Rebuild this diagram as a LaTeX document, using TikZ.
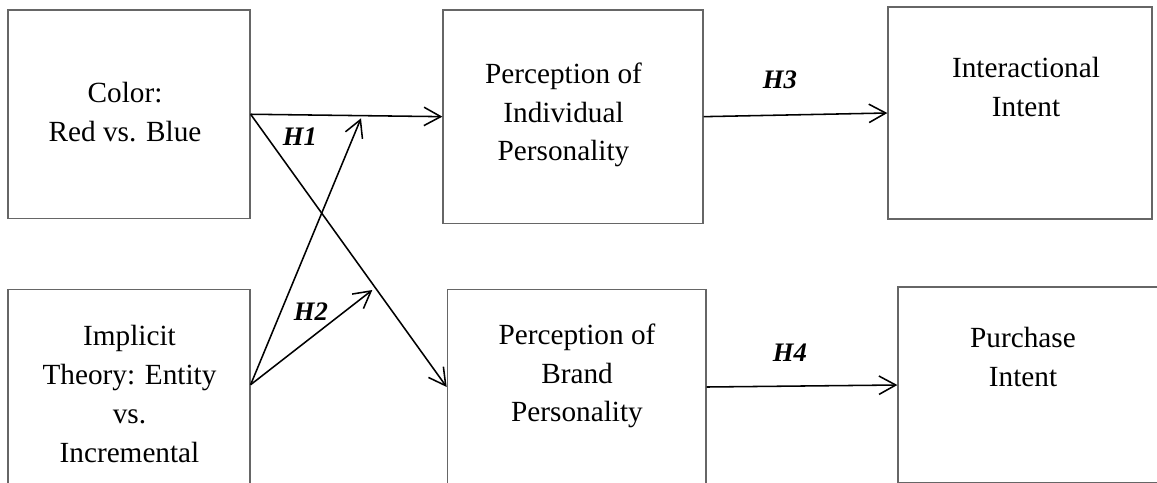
\documentclass[tikz,border=0pt]{standalone}
\usepackage{fontspec}
\setmainfont{Liberation Serif}
\usetikzlibrary{arrows.meta}
\tikzset{
	box/.style={draw=black!60, line width=0.9pt, inner sep=0pt},
	txt/.style={align=center, inner sep=0pt, font=\fontsize{20.8}{27.6}\selectfont},
	hyp/.style={inner sep=0pt, font=\fontsize{19}{22}\selectfont\bfseries\itshape},
	arr/.style={line width=1.1pt, -{Straight Barb[length=0.42cm, width=0.46cm]}}
}

\begin{document}
\begin{tikzpicture}[x=0.025cm, y=-0.025cm]
			%%%%% START %%%%%
			\useasboundingbox (0, 0) rectangle (1157, 482);
			
			% boxes
			\node[box, minimum width=242*0.025cm, minimum height=208.5*0.025cm] (color) at (129, 114.25) {};
			\node[box, minimum width=242*0.025cm, minimum height=208*0.025cm] (implicit) at (129, 393.3) {};
			\node[box, minimum width=260*0.025cm, minimum height=213.3*0.025cm] (indiv) at (573, 116.65) {};
			\node[box, minimum width=264*0.025cm, minimum height=212*0.025cm] (inter) at (1020, 113) {};
			\node[box, minimum width=258.7*0.025cm, minimum height=195.4*0.025cm] (brand) at (576.65, 387) {};
			\node[box, minimum width=272*0.025cm, minimum height=196*0.025cm] (purchase) at (1034, 385) {};
			
			% texts
			\node[txt] (colorTxt) at (125, 112) {Color:\\Red vs. Blue};
			\node[txt] (implicitTxt) at (129.5, 394) {Implicit\\Theory: Entity\\vs.\\Incremental};
			\node[txt] (indivTxt) at (563.5, 115) {Perception of\\Individual\\Personality};
			\node[txt] (interTxt) at (1026, 87) {Interactional\\Intent};
			\node[txt] (brandTxt) at (577, 376) {Perception of\\Brand\\Personality};
			\node[txt] (purchaseTxt) at (1023, 357) {Purchase\\Intent};
			
			% free ends of the two arrows from the lower left box
			\coordinate (upTip) at (361, 118.3);
			\coordinate (midTip) at (372.3, 290);
			
			% arrows
			\draw[arr] (color.east) -- (indiv.west);
			\draw[arr] (color.east) -- (brand.west);
			\draw[arr] ([yshift=-2.4cm]implicit.north east) -- (upTip);
			\draw[arr] ([yshift=-2.4cm]implicit.north east) -- (midTip);
			\draw[arr] (indiv.east) -- (inter.west);
			\draw[arr] (brand.east) -- (purchase.west);
			
			% hypotheses
			\node[hyp] (h1) at (300, 137) {H1};
			\node[hyp] (h2) at (311, 312) {H2};
			\node[hyp] (h3) at (780, 80) {H3};
			\node[hyp] (h4) at (790, 353) {H4};
			
			%%%%% END %%%%%
\end{tikzpicture}
\end{document}
